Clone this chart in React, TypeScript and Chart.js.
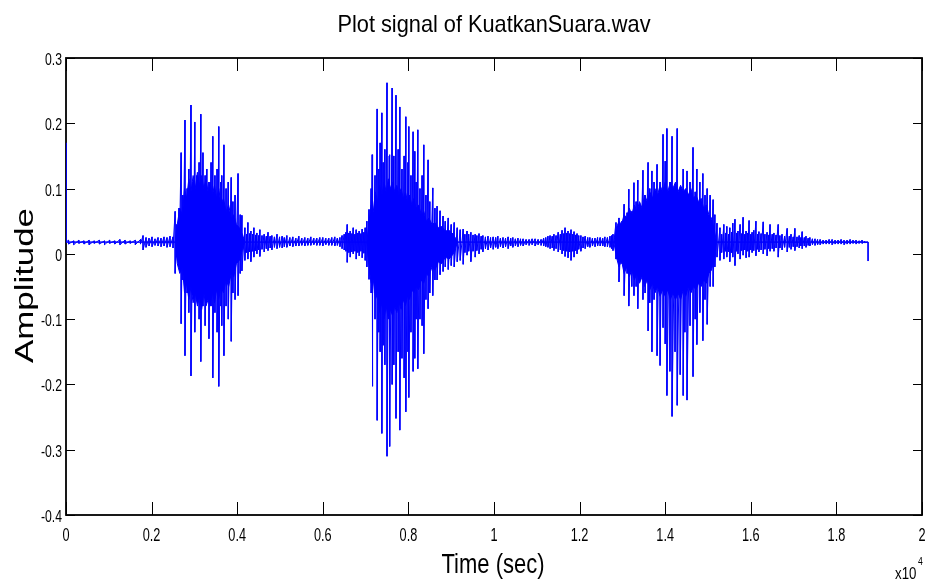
import React, { useEffect, useRef } from 'react';
import { Chart, registerables } from 'chart.js';

Chart.register(...registerables);

// ---------- text ----------
const TITLE = 'Plot signal of KuatkanSuara.wav';
const X_TITLE = 'Time (sec)';
const Y_TITLE = 'Amplitude';
const X_MULTIPLIER = 'x10';
const X_EXPONENT = '4';

// ---------- ticks ----------
const xTickValues = [0, 0.2, 0.4, 0.6, 0.8, 1, 1.2, 1.4, 1.6, 1.8, 2];
const xTickLabels = ['0', '0.2', '0.4', '0.6', '0.8', '1', '1.2', '1.4', '1.6', '1.8', '2'];
const yTickValues = [-0.4, -0.3, -0.2, -0.1, 0, 0.1, 0.2, 0.3];
const yTickLabels = ['-0.4', '-0.3', '-0.2', '-0.1', '0', '0.1', '0.2', '0.3'];

// ---------- signal: [time (x10^4 samples), local max, local min] ----------
type Stroke = [number, number, number];

const leadIn: Stroke[] = [
  [0, 0.17, 0.018], [0.006, 0.021, 0.015], [0.018, 0.020, 0.014], [0.030, 0.021, 0.016],
  [0.042, 0.020, 0.015], [0.054, 0.021, 0.014], [0.066, 0.020, 0.016], [0.078, 0.021, 0.015],
  [0.090, 0.020, 0.014], [0.102, 0.021, 0.016], [0.114, 0.020, 0.015], [0.126, 0.022, 0.014],
  [0.138, 0.021, 0.015], [0.150, 0.020, 0.016], [0.162, 0.021, 0.014], [0.174, 0.022, 0.015],
];

const onset1: Stroke[] = [
  [0.180, 0.028, 0.006], [0.187, 0.025, 0.010], [0.194, 0.024, 0.012], [0.201, 0.026, 0.011],
  [0.208, 0.023, 0.013], [0.215, 0.025, 0.012], [0.222, 0.024, 0.011], [0.229, 0.026, 0.012],
  [0.236, 0.025, 0.010], [0.243, 0.027, 0.011], [0.250, 0.026, 0.009],
];

const burst1: Stroke[] = [
  [0.255, 0.065, -0.030], [0.259, 0.045, -0.005], [0.264, 0.070, -0.020], [0.269, 0.155, -0.107],
  [0.273, 0.090, -0.040], [0.278, 0.205, -0.156], [0.283, 0.100, -0.060], [0.287, 0.130, -0.090],
  [0.292, 0.228, -0.187], [0.297, 0.110, -0.060], [0.301, 0.202, -0.120], [0.306, 0.120, -0.070],
  [0.311, 0.140, -0.100], [0.315, 0.214, -0.165], [0.320, 0.155, -0.080], [0.325, 0.120, -0.110],
  [0.329, 0.130, -0.070], [0.334, 0.110, -0.130], [0.339, 0.140, -0.080], [0.343, 0.180, -0.190],
  [0.348, 0.120, -0.090], [0.353, 0.130, -0.120], [0.357, 0.195, -0.203], [0.362, 0.110, -0.080],
  [0.364, 0.120, -0.110], [0.369, 0.167, -0.156], [0.374, 0.100, -0.080], [0.379, 0.110, -0.100],
  [0.386, 0.117, -0.134], [0.390, 0.080, -0.060], [0.395, 0.090, -0.070], [0.402, 0.123, -0.064],
  [0.407, 0.060, -0.030], [0.411, 0.059, -0.026],
];

const gap1: Stroke[] = [
  [0.418, 0.040, -0.010], [0.422, 0.030, 0.002], [0.425, 0.048, -0.008], [0.429, 0.031, 0.003],
  [0.432, 0.035, -0.012], [0.436, 0.030, 0.004], [0.439, 0.040, -0.005], [0.443, 0.029, 0.005],
  [0.446, 0.032, 0.000], [0.450, 0.028, 0.006], [0.453, 0.037, -0.004], [0.458, 0.028, 0.007],
  [0.463, 0.030, 0.003], [0.468, 0.027, 0.008], [0.472, 0.033, 0.005], [0.477, 0.027, 0.009],
  [0.481, 0.028, 0.006], [0.487, 0.026, 0.010], [0.493, 0.030, 0.008], [0.499, 0.026, 0.010],
  [0.505, 0.027, 0.009], [0.510, 0.025, 0.011], [0.516, 0.028, 0.010], [0.523, 0.025, 0.012],
  [0.530, 0.026, 0.011], [0.537, 0.024, 0.012], [0.544, 0.027, 0.012], [0.551, 0.024, 0.013],
  [0.558, 0.025, 0.012], [0.565, 0.024, 0.013], [0.572, 0.026, 0.013], [0.579, 0.024, 0.014],
  [0.586, 0.024, 0.013], [0.593, 0.025, 0.013], [0.600, 0.025, 0.012], [0.607, 0.024, 0.014],
  [0.614, 0.024, 0.013], [0.621, 0.025, 0.013], [0.628, 0.026, 0.012], [0.634, 0.024, 0.013],
  [0.640, 0.025, 0.011], [0.645, 0.028, 0.008], [0.650, 0.030, 0.006], [0.654, 0.033, 0.004],
  [0.657, 0.045, -0.013], [0.661, 0.032, 0.002], [0.664, 0.035, -0.005], [0.668, 0.031, 0.003],
  [0.671, 0.040, 0.000], [0.675, 0.030, 0.004], [0.678, 0.037, -0.008], [0.682, 0.032, 0.002],
  [0.685, 0.035, -0.003], [0.689, 0.031, 0.004], [0.692, 0.038, -0.006], [0.696, 0.033, 0.001],
  [0.699, 0.040, -0.010], [0.703, 0.050, -0.020],
];

const burst2: Stroke[] = [
  [0.708, 0.068, -0.039], [0.713, 0.100, -0.060], [0.715, 0.152, -0.203], [0.717, 0.130, -0.060],
  [0.722, 0.120, -0.100], [0.727, 0.222, -0.255], [0.731, 0.130, -0.120], [0.734, 0.170, -0.150],
  [0.738, 0.216, -0.275], [0.741, 0.140, -0.140], [0.745, 0.160, -0.170], [0.750, 0.262, -0.310],
  [0.755, 0.150, -0.160], [0.757, 0.152, -0.295], [0.762, 0.254, -0.200], [0.766, 0.150, -0.170],
  [0.771, 0.243, -0.252], [0.776, 0.160, -0.150], [0.780, 0.225, -0.270], [0.785, 0.130, -0.160],
  [0.790, 0.150, -0.190], [0.794, 0.210, -0.242], [0.799, 0.140, -0.150], [0.801, 0.195, -0.220],
  [0.806, 0.120, -0.120], [0.811, 0.187, -0.180], [0.815, 0.157, -0.160], [0.818, 0.110, -0.100],
  [0.822, 0.190, -0.176], [0.827, 0.100, -0.100], [0.832, 0.120, -0.110], [0.836, 0.167, -0.153],
  [0.841, 0.090, -0.070], [0.846, 0.144, -0.084], [0.850, 0.080, -0.060], [0.857, 0.101, -0.064],
  [0.862, 0.070, -0.040], [0.867, 0.073, -0.040], [0.874, 0.066, -0.032], [0.881, 0.058, -0.027],
  [0.886, 0.050, -0.020], [0.893, 0.055, -0.024], [0.900, 0.045, -0.018], [0.907, 0.048, -0.020],
  [0.914, 0.040, -0.012], [0.921, 0.037, -0.010],
];

const gap2: Stroke[] = [
  [0.928, 0.038, -0.016], [0.932, 0.030, 0.002], [0.937, 0.035, -0.002], [0.941, 0.030, 0.004],
  [0.946, 0.033, -0.012], [0.951, 0.029, 0.004], [0.956, 0.030, -0.005], [0.960, 0.028, 0.005],
  [0.965, 0.031, 0.000], [0.970, 0.027, 0.007], [0.974, 0.028, 0.003], [0.980, 0.026, 0.008],
  [0.986, 0.027, 0.006], [0.992, 0.025, 0.009], [0.998, 0.026, 0.007], [1.004, 0.025, 0.010],
  [1.009, 0.027, 0.008], [1.015, 0.024, 0.011], [1.021, 0.025, 0.009], [1.027, 0.024, 0.011],
  [1.033, 0.026, 0.008], [1.039, 0.024, 0.012], [1.044, 0.025, 0.010], [1.050, 0.023, 0.012],
  [1.056, 0.024, 0.011], [1.062, 0.023, 0.013], [1.068, 0.023, 0.012], [1.075, 0.022, 0.014],
  [1.082, 0.022, 0.013], [1.089, 0.023, 0.014], [1.096, 0.023, 0.012], [1.103, 0.022, 0.014],
  [1.110, 0.022, 0.013], [1.116, 0.024, 0.012], [1.121, 0.025, 0.011], [1.126, 0.027, 0.010],
  [1.131, 0.028, 0.008], [1.136, 0.027, 0.009], [1.140, 0.030, 0.005], [1.145, 0.028, 0.008],
  [1.150, 0.033, 0.003], [1.155, 0.030, 0.006], [1.159, 0.036, 0.000], [1.163, 0.031, 0.005],
  [1.166, 0.040, -0.004], [1.170, 0.032, 0.004], [1.173, 0.035, -0.006], [1.177, 0.031, 0.003],
  [1.180, 0.037, -0.010], [1.184, 0.030, 0.004], [1.187, 0.034, -0.005], [1.191, 0.029, 0.005],
  [1.194, 0.031, 0.000], [1.198, 0.028, 0.007], [1.203, 0.028, 0.004], [1.208, 0.026, 0.009],
  [1.213, 0.027, 0.008], [1.219, 0.025, 0.011], [1.224, 0.025, 0.010], [1.230, 0.024, 0.012],
  [1.236, 0.024, 0.011], [1.242, 0.025, 0.012], [1.248, 0.025, 0.012], [1.254, 0.024, 0.012],
  [1.259, 0.026, 0.011], [1.265, 0.025, 0.011], [1.271, 0.027, 0.010], [1.275, 0.028, 0.008],
  [1.278, 0.030, 0.005],
];

const burst3: Stroke[] = [
  [1.285, 0.048, -0.008], [1.292, 0.055, -0.043], [1.299, 0.050, -0.015], [1.304, 0.076, -0.064],
  [1.311, 0.063, -0.030], [1.315, 0.099, -0.080], [1.322, 0.065, -0.050], [1.327, 0.109, -0.064],
  [1.332, 0.080, -0.050], [1.336, 0.113, -0.084], [1.341, 0.075, -0.040], [1.348, 0.128, -0.070],
  [1.353, 0.090, -0.060], [1.360, 0.140, -0.118], [1.364, 0.100, -0.075], [1.369, 0.127, -0.150],
  [1.374, 0.110, -0.070], [1.381, 0.137, -0.156], [1.388, 0.110, -0.171], [1.395, 0.183, -0.113],
  [1.400, 0.142, -0.138], [1.404, 0.192, -0.217], [1.411, 0.110, -0.180], [1.416, 0.180, -0.249],
  [1.423, 0.100, -0.150], [1.428, 0.192, -0.232], [1.435, 0.100, -0.185], [1.442, 0.130, -0.217],
  [1.446, 0.095, -0.120], [1.451, 0.127, -0.224], [1.458, 0.110, -0.110], [1.465, 0.163, -0.188],
  [1.470, 0.095, -0.100], [1.474, 0.130, -0.139], [1.481, 0.110, -0.090], [1.488, 0.123, -0.133],
  [1.493, 0.090, -0.070], [1.498, 0.100, -0.108], [1.505, 0.090, -0.050], [1.512, 0.083, -0.050],
  [1.516, 0.060, -0.020], [1.521, 0.047, -0.005],
];

const tail: Stroke[] = [
  [1.528, 0.040, -0.010], [1.532, 0.030, 0.002], [1.537, 0.045, -0.008], [1.541, 0.032, 0.004],
  [1.544, 0.042, -0.005], [1.548, 0.030, 0.003], [1.551, 0.040, -0.012], [1.555, 0.033, 0.002],
  [1.558, 0.047, -0.005], [1.563, 0.053, -0.018], [1.567, 0.032, 0.004], [1.570, 0.035, 0.000],
  [1.575, 0.045, -0.008], [1.579, 0.031, 0.005], [1.582, 0.056, -0.002], [1.586, 0.030, 0.006],
  [1.589, 0.035, -0.006], [1.593, 0.032, 0.004], [1.596, 0.051, -0.005], [1.600, 0.030, 0.006],
  [1.603, 0.033, 0.002], [1.607, 0.036, 0.005], [1.612, 0.050, -0.003], [1.616, 0.030, 0.007],
  [1.619, 0.034, 0.003], [1.624, 0.031, 0.006], [1.629, 0.049, 0.000], [1.633, 0.030, 0.007],
  [1.638, 0.033, -0.003], [1.642, 0.029, 0.008], [1.645, 0.045, 0.004], [1.650, 0.030, 0.008],
  [1.654, 0.032, 0.004], [1.659, 0.029, 0.009], [1.664, 0.045, -0.005], [1.668, 0.028, 0.009],
  [1.673, 0.030, 0.006], [1.679, 0.027, 0.010], [1.685, 0.039, 0.003], [1.690, 0.027, 0.010],
  [1.694, 0.030, 0.007], [1.699, 0.026, 0.011], [1.703, 0.039, 0.005], [1.708, 0.026, 0.011],
  [1.713, 0.028, 0.009], [1.717, 0.025, 0.012], [1.720, 0.034, 0.008], [1.725, 0.025, 0.012],
  [1.729, 0.027, 0.010], [1.734, 0.024, 0.013], [1.738, 0.025, 0.012], [1.744, 0.023, 0.014],
  [1.750, 0.023, 0.013], [1.756, 0.022, 0.014], [1.762, 0.022, 0.014], [1.769, 0.021, 0.015],
  [1.776, 0.021, 0.015], [1.783, 0.022, 0.015], [1.790, 0.022, 0.014], [1.797, 0.021, 0.015],
  [1.804, 0.021, 0.015], [1.811, 0.022, 0.015], [1.818, 0.021, 0.014], [1.825, 0.021, 0.015],
  [1.832, 0.022, 0.015], [1.839, 0.021, 0.016], [1.846, 0.021, 0.015], [1.853, 0.020, 0.016],
  [1.860, 0.021, 0.016], [1.866, 0.019, 0.017], [1.874, 0.018, -0.011],
];

// dense core of each burst: [time, upper edge, lower edge]
const coreBand: Stroke[] = [
  [0, 0.018, 0.018],
  [0.255, 0.018, 0.018], [0.260, 0.045, -0.015], [0.266, 0.070, -0.030], [0.272, 0.060, -0.020],
  [0.277, 0.100, -0.060], [0.282, 0.085, -0.045], [0.287, 0.115, -0.070], [0.292, 0.095, -0.050],
  [0.297, 0.120, -0.075], [0.302, 0.100, -0.060], [0.307, 0.125, -0.080], [0.312, 0.105, -0.065],
  [0.317, 0.120, -0.085], [0.322, 0.100, -0.060], [0.327, 0.115, -0.080], [0.332, 0.095, -0.070],
  [0.337, 0.110, -0.080], [0.342, 0.090, -0.060], [0.347, 0.105, -0.075], [0.352, 0.085, -0.055],
  [0.357, 0.100, -0.070], [0.362, 0.075, -0.050], [0.368, 0.085, -0.060], [0.374, 0.065, -0.040],
  [0.380, 0.075, -0.050], [0.386, 0.055, -0.030], [0.392, 0.060, -0.035], [0.398, 0.045, -0.015],
  [0.405, 0.040, -0.010], [0.412, 0.030, 0.005], [0.418, 0.018, 0.018],
  [0.703, 0.018, 0.018], [0.708, 0.050, -0.020], [0.713, 0.075, -0.045], [0.718, 0.065, -0.040],
  [0.723, 0.095, -0.070], [0.728, 0.080, -0.060], [0.733, 0.105, -0.090], [0.738, 0.090, -0.075],
  [0.743, 0.110, -0.100], [0.748, 0.095, -0.080], [0.753, 0.115, -0.100], [0.758, 0.100, -0.085],
  [0.763, 0.110, -0.095], [0.768, 0.095, -0.080], [0.773, 0.105, -0.090], [0.778, 0.090, -0.075],
  [0.783, 0.100, -0.085], [0.788, 0.085, -0.070], [0.793, 0.095, -0.080], [0.798, 0.080, -0.065],
  [0.803, 0.090, -0.070], [0.808, 0.075, -0.055], [0.813, 0.085, -0.060], [0.818, 0.070, -0.050],
  [0.824, 0.075, -0.055], [0.830, 0.060, -0.040], [0.836, 0.065, -0.045], [0.842, 0.050, -0.030],
  [0.848, 0.055, -0.035], [0.855, 0.045, -0.020], [0.862, 0.048, -0.025], [0.870, 0.040, -0.012],
  [0.878, 0.042, -0.015], [0.886, 0.035, -0.005], [0.895, 0.036, -0.008], [0.905, 0.030, 0.000],
  [0.915, 0.018, 0.018],
  [1.280, 0.018, 0.018], [1.286, 0.040, -0.005], [1.292, 0.050, -0.020], [1.298, 0.045, -0.010],
  [1.304, 0.060, -0.030], [1.310, 0.055, -0.020], [1.316, 0.070, -0.035], [1.322, 0.060, -0.025],
  [1.328, 0.075, -0.040], [1.334, 0.065, -0.030], [1.340, 0.080, -0.045], [1.346, 0.070, -0.035],
  [1.352, 0.090, -0.050], [1.358, 0.080, -0.040], [1.364, 0.095, -0.055], [1.370, 0.085, -0.045],
  [1.376, 0.100, -0.060], [1.382, 0.090, -0.050], [1.388, 0.105, -0.065], [1.394, 0.095, -0.055],
  [1.400, 0.110, -0.065], [1.406, 0.095, -0.055], [1.412, 0.110, -0.070], [1.418, 0.100, -0.060],
  [1.424, 0.110, -0.070], [1.430, 0.095, -0.060], [1.436, 0.105, -0.070], [1.442, 0.095, -0.055],
  [1.448, 0.100, -0.065], [1.454, 0.090, -0.050], [1.460, 0.100, -0.060], [1.466, 0.085, -0.050],
  [1.472, 0.090, -0.055], [1.478, 0.080, -0.045], [1.484, 0.085, -0.050], [1.490, 0.070, -0.040],
  [1.496, 0.075, -0.045], [1.502, 0.060, -0.030], [1.508, 0.055, -0.025], [1.514, 0.040, -0.010],
  [1.520, 0.018, 0.018],
  [1.874, 0.018, 0.018],
];

const segments: Stroke[][] = [leadIn, onset1, burst1, gap1, burst2, gap2, burst3, tail];

const SANS = "'Liberation Sans', Arial, Helvetica, sans-serif";
const BLUE = '#0000ff';

type Align = 'left' | 'center' | 'right';

function drawText(
  ctx: CanvasRenderingContext2D,
  text: string,
  x: number,
  y: number,
  size: number,
  align: Align,
  sx: number,
) {
  ctx.save();
  ctx.font = `${size}px ${SANS}`;
  ctx.textAlign = 'left';
  ctx.textBaseline = 'alphabetic';
  ctx.fillStyle = '#000';
  const w = ctx.measureText(text).width * sx;
  const x0 = align === 'center' ? x - w / 2 : align === 'right' ? x - w : x;
  ctx.translate(x0, y);
  ctx.scale(sx, 1);
  ctx.fillText(text, 0, 0);
  ctx.restore();
}

function widthScale(ctx: CanvasRenderingContext2D, text: string, size: number, target: number) {
  ctx.save();
  ctx.font = `${size}px ${SANS}`;
  const w = ctx.measureText(text).width;
  ctx.restore();
  return target / w;
}

const matlabAxes = {
  id: 'matlabAxes',
  beforeDatasetsDraw(chart: any) {
    const { ctx, chartArea: a, scales } = chart;
    ctx.save();
    ctx.strokeStyle = '#000';
    ctx.lineWidth = 1;
    ctx.beginPath();
    xTickValues.forEach((v) => {
      const px = Math.round(scales.x.getPixelForValue(v)) + 0.5;
      ctx.moveTo(px, a.bottom);
      ctx.lineTo(px, a.bottom - 13);
      ctx.moveTo(px, a.top);
      ctx.lineTo(px, a.top + 13);
    });
    yTickValues.forEach((v) => {
      const py = Math.round(scales.y.getPixelForValue(v)) + 0.5;
      ctx.moveTo(a.left, py);
      ctx.lineTo(a.left + 9, py);
      ctx.moveTo(a.right, py);
      ctx.lineTo(a.right - 9, py);
    });
    ctx.stroke();
    ctx.lineWidth = 1.8;
    ctx.strokeRect(a.left, a.top, a.right - a.left, a.bottom - a.top);
    ctx.restore();
  },
  afterDraw(chart: any) {
    const { ctx, chartArea: a, scales } = chart;

    // tick labels (condensed, as in the source)
    xTickValues.forEach((v, i) => {
      drawText(ctx, xTickLabels[i], scales.x.getPixelForValue(v), a.bottom + 25.5, 19, 'center', 0.67);
    });
    yTickValues.forEach((v, i) => {
      drawText(ctx, yTickLabels[i], a.left - 4, scales.y.getPixelForValue(v) + 7, 17, 'right', 0.72);
    });

    // title
    const cx = (a.left + a.right) / 2;
    drawText(ctx, TITLE, cx, 32, 24, 'center', widthScale(ctx, TITLE, 24, 313));

    // x-axis title
    drawText(ctx, X_TITLE, cx - 1, 573, 28, 'center', widthScale(ctx, X_TITLE, 28, 103));

    // y-axis title (stretched along its length like the source)
    ctx.save();
    ctx.fillStyle = '#000';
    ctx.font = `25px ${SANS}`;
    const w = ctx.measureText(Y_TITLE).width;
    ctx.translate(33, (a.top + a.bottom) / 2 - 1);
    ctx.rotate(-Math.PI / 2);
    ctx.scale(155 / w, 1);
    ctx.textAlign = 'center';
    ctx.textBaseline = 'alphabetic';
    ctx.fillText(Y_TITLE, 0, 0);
    ctx.restore();

    // x10^4 multiplier
    drawText(ctx, X_MULTIPLIER, 895, 579, 17, 'left', 0.78);
    drawText(ctx, X_EXPONENT, 918, 565, 11, 'left', 0.78);
  },
};

export default function App() {
  const canvasRef = useRef<HTMLCanvasElement | null>(null);

  useEffect(() => {
    const canvas = canvasRef.current;
    if (!canvas) return;

    const signalPoints = segments.flat().flatMap(([t, hi, lo]) => [
      { x: t, y: hi },
      { x: t, y: lo },
    ]);
    const bandHi = coreBand.map(([t, hi]) => ({ x: t, y: hi }));
    const bandLo = coreBand.map(([t, , lo]) => ({ x: t, y: lo }));

    const chart = new Chart(canvas, {
      type: 'line',
      data: {
        datasets: [
          {
            label: 'core upper',
            data: bandHi,
            borderColor: BLUE,
            borderWidth: 1,
            backgroundColor: BLUE,
            pointRadius: 0,
            fill: '+1',
            tension: 0,
          },
          {
            label: 'core lower',
            data: bandLo,
            borderColor: BLUE,
            borderWidth: 1,
            pointRadius: 0,
            fill: false,
            tension: 0,
          },
          {
            label: 'signal',
            data: signalPoints,
            borderColor: BLUE,
            borderWidth: 1,
            pointRadius: 0,
            fill: false,
            tension: 0,
          },
        ],
      },
      options: {
        animation: false,
        responsive: false,
        events: [],
        layout: { padding: { left: 0, right: 3, top: 58, bottom: 0 } },
        plugins: {
          legend: { display: false },
          tooltip: { enabled: false },
          title: { display: false, text: TITLE },
        },
        scales: {
          x: {
            type: 'linear',
            min: 0,
            max: 2,
            grid: { display: false },
            border: { display: false },
            ticks: { display: false },
            title: { display: false, text: X_TITLE },
            afterBuildTicks: (s: any) => {
              s.ticks = xTickValues.map((v) => ({ value: v }));
            },
            afterFit: (s: any) => {
              s.height = 68;
              s.paddingLeft = 0;
              s.paddingRight = 0;
            },
          },
          y: {
            type: 'linear',
            min: -0.4,
            max: 0.3,
            grid: { display: false },
            border: { display: false },
            ticks: { display: false },
            title: { display: false, text: Y_TITLE },
            afterBuildTicks: (s: any) => {
              s.ticks = yTickValues.map((v) => ({ value: v }));
            },
            afterFit: (s: any) => {
              s.width = 66;
              s.paddingTop = 0;
              s.paddingBottom = 0;
            },
          },
        },
      },
      plugins: [matlabAxes],
    } as any);

    return () => chart.destroy();
  }, []);

  return (
    <div style={{ position: 'absolute', left: 0, top: 0, width: 925, height: 583, background: '#fff' }}>
      <canvas ref={canvasRef} width={925} height={583} style={{ display: 'block' }} />
    </div>
  );
}
